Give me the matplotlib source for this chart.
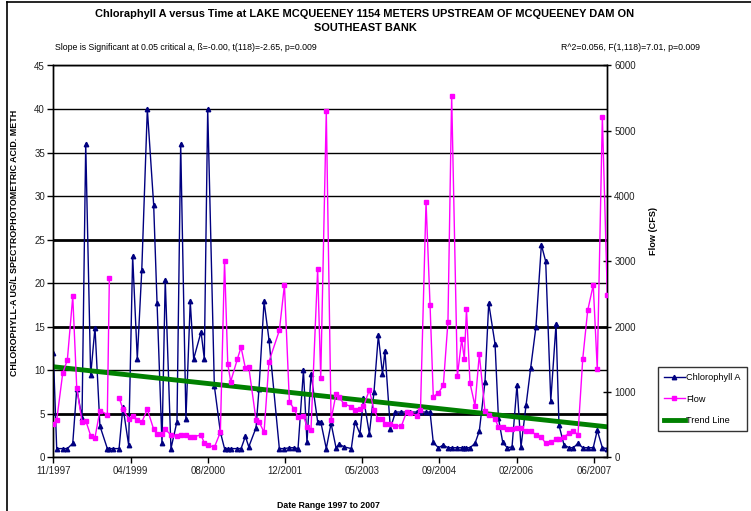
import datetime as dt
import numpy as np
import matplotlib
matplotlib.use('Agg')
import matplotlib.pyplot as plt
import matplotlib.dates as mdates
from matplotlib.lines import Line2D

plt.rcParams['font.family'] = ['Liberation Sans', 'DejaVu Sans']

# Sampling dates: days after the first sample (1997-11-20)
FIRST_SAMPLE = dt.date(1997, 11, 20)
sample_day = [0, 22, 61, 91, 126, 152, 186, 210, 242, 270, 302, 350, 363, 389, 426,
              451, 488, 514, 544, 573, 609, 650, 672, 704, 725, 762, 801, 825, 859, 887,
              909, 957, 978, 1000, 1043, 1082, 1109, 1130, 1149, 1192, 1216, 1244, 1266,
              1313, 1332, 1365, 1397, 1464, 1497, 1529, 1559, 1585, 1620, 1643, 1669,
              1712, 1732, 1768, 1799, 1831, 1852, 1883, 1930, 1954, 1986, 2009, 2047,
              2077, 2105, 2132, 2148, 2183, 2216, 2255, 2288, 2313, 2354, 2378, 2414,
              2440, 2461, 2494, 2526, 2556, 2580, 2617, 2645, 2662, 2676, 2699, 2731,
              2759, 2796, 2820, 2861, 2883, 2911, 2940, 2971, 3003, 3029, 3062, 3092,
              3126, 3161, 3189, 3222, 3256, 3275, 3308, 3342, 3368, 3398, 3429, 3461,
              3497, 3523, 3556, 3588]

# Chlorophyll-a, ug/L
chlorophyll = [12.0, 1.0, 1.0, 1.0, 1.6, 7.9, 4.5, 36.0, 9.4, 14.9, 3.6, 1.0, 1.0, 1.0, 1.0,
               5.8, 1.4, 23.1, 11.3, 21.5, 40.0, 29.0, 17.7, 1.6, 20.4, 1.0, 4.1, 36.0, 4.4, 17.9,
               11.3, 14.4, 11.3, 40.0, 8.2, 2.9, 1.0, 1.0, 1.0, 1.0, 1.0, 2.4, 1.2,
               3.4, 7.8, 17.9, 13.5, 1.0, 1.0, 1.1, 1.1, 1.0, 10.0, 1.7, 9.6,
               4.1, 4.1, 1.0, 3.9, 1.1, 1.5, 1.2, 1.0, 4.1, 2.7, 6.8, 2.7,
               7.5, 14.0, 9.6, 12.2, 3.3, 5.2, 5.2, 5.2, 5.2, 5.2, 5.2, 5.2,
               5.2, 1.7, 1.1, 1.4, 1.1, 1.1, 1.1, 1.1, 1.1, 1.1, 1.1, 1.6,
               3.0, 8.7, 17.7, 13.0, 4.5, 1.7, 1.1, 1.2, 8.3, 1.2, 6.0, 10.3,
               15.0, 24.4, 22.5, 6.5, 15.3, 3.7, 1.4, 1.1, 1.1, 1.6, 1.1, 1.1,
               1.1, 3.1, 1.1, 1.0]

# Flow, CFS (None = not measured)
flow = [506, 567, 1288, 1492, 2463, 1058, 547, 562, 332, 302, 716, 654, 2740, None, 915,
        736, 588, 634, 567, 537, 736, 429, 353, 355, 429, 342, 332, 342, 342, 317,
        317, 342, 215, 189, 153, 383, 3010, 1426, 1160, 1503, 1687, 1365, 1380,
        572, 547, 383, 1467, 1942, 2640, 853, 740, 618, 636, 470, 425,
        2880, 1220, 5300, 572, 970, 920, 815, 777, 730, 736, 780, 1032,
        720, 583, 583, 506, 506, 480, 482, 695, 680, 640, 720, 3915,
        2335, 930, 985, 1100, 2075, 5540, 1240, 1808, 1502, 2268, 1134, 791,
        1578, 705, 649, 590, 462, 460, 434, 434, 445, 445, 409, 409,
        342, 307, 215, 230, 276, 276, 317, 368, 409, 342, 1508, 2249,
        2637, 1349, 5215, 2489]

trend_ends = [10.4, 3.5]
tick_days = [0, 500, 1000, 1500, 2000, 2500, 3000, 3500]

NAVY = '#000080'
MAGENTA = '#FF00FF'
GREEN = '#008000'

dates = [FIRST_SAMPLE + dt.timedelta(days=d) for d in sample_day]
flow_arr = np.array([np.nan if v is None else v for v in flow], dtype=float)

fig = plt.figure(figsize=(7.51, 5.11), dpi=100)
fig.patch.set_facecolor('white')

ax = fig.add_axes([53.3 / 751, 1 - 457.3 / 511, (607.3 - 53.3) / 751, (457.3 - 65.5) / 511])
ax2 = ax.twinx()

# horizontal gridlines
for v in range(0, 50, 5):
    lw = 2.0 if v in (5, 15, 25) else 1.0
    ax.axhline(v, color='black', lw=lw, zorder=1)

ax.plot(dates, chlorophyll, color=NAVY, lw=1, marker='^', ms=3.2, mfc=NAVY, mec=NAVY, zorder=3)
ax.plot([dates[0], dates[-1]], trend_ends, color=GREEN, lw=3.5, solid_capstyle='butt', zorder=4)
ax2.plot(dates, flow_arr, color=MAGENTA, lw=1, marker='s', ms=3.2, mfc=MAGENTA, mec=MAGENTA, zorder=3)

ax.set_xlim(dates[0], dates[-1])
ax.set_ylim(0, 45)
ax2.set_ylim(0, 6000)
ax.set_yticks(range(0, 50, 5))
ax2.set_yticks(range(0, 7000, 1000))
ax.set_xticks([mdates.date2num(FIRST_SAMPLE + dt.timedelta(days=d)) for d in tick_days])
ax.xaxis.set_major_formatter(mdates.DateFormatter('%m/%Y'))

for a in (ax, ax2):
    for s in a.spines.values():
        s.set_linewidth(1)
        s.set_color('black')
ax.tick_params(axis='both', labelsize=7, length=4, width=1, color='black', labelcolor='#222222', pad=2)
ax2.tick_params(axis='y', labelsize=7, length=6, width=1, direction='inout', labelcolor='#222222', pad=2)

ax.set_ylabel('CHLOROPHYLL-A UG/L SPECTROPHOTOMETRIC ACID. METH', fontsize=6.4, fontweight='bold')
ax.yaxis.set_label_coords(-(53.3 - 19) / 554, (457.3 - 243) / 391.8)
ax2.set_ylabel('Flow (CFS)', fontsize=6.6, fontweight='bold')
ax2.yaxis.set_label_coords((649 - 53.3) / 554, (457.3 - 231) / 391.8)

fig.text(365 / 751, 1 - 14 / 511,
         'Chloraphyll A versus Time at LAKE MCQUEENEY 1154 METERS UPSTREAM OF MCQUEENEY DAM ON',
         ha='center', va='center', fontsize=7.9, fontweight='bold')
fig.text(365 / 751, 1 - 28 / 511, 'SOUTHEAST BANK', ha='center', va='center',
         fontsize=7.9, fontweight='bold')
fig.text(55 / 751, 1 - 47 / 511,
         'Slope is Significant at 0.05 critical a, \u00df=-0.00, t(118)=-2.65, p=0.009',
         ha='left', va='center', fontsize=6.3)
fig.text(700 / 751, 1 - 47 / 511, 'R^2=0.056, F(1,118)=7.01, p=0.009',
         ha='right', va='center', fontsize=6.3)
fig.text(328 / 751, 1 - 505 / 511, 'Date Range 1997 to 2007', ha='center', va='center',
         fontsize=6.3, fontweight='bold')

handles = [Line2D([], [], color=NAVY, lw=1, marker='^', ms=3.2),
           Line2D([], [], color=MAGENTA, lw=1, marker='s', ms=3.2),
           Line2D([], [], color=GREEN, lw=3.5)]
leg = fig.legend(handles, ['Chlorophyll A', 'Flow', 'Trend Line'],
                 loc='upper left', bbox_to_anchor=(657.7 / 751, 1 - 367.3 / 511),
                 borderaxespad=0, fontsize=6.6, frameon=True, fancybox=False,
                 edgecolor='black', handlelength=2.3, labelspacing=1.35,
                 borderpad=0.65, handletextpad=0.15)
leg.get_frame().set_linewidth(1)

# outer chart frame (cropped on the right and bottom)
fig.add_artist(Line2D([7 / 751, 7 / 751], [0, 1 - 2 / 511], color='black', lw=1.2))
fig.add_artist(Line2D([7 / 751, 1], [1 - 2 / 511, 1 - 2 / 511], color='black', lw=1.2))

fig.savefig('out.png', dpi=100, facecolor='white')
